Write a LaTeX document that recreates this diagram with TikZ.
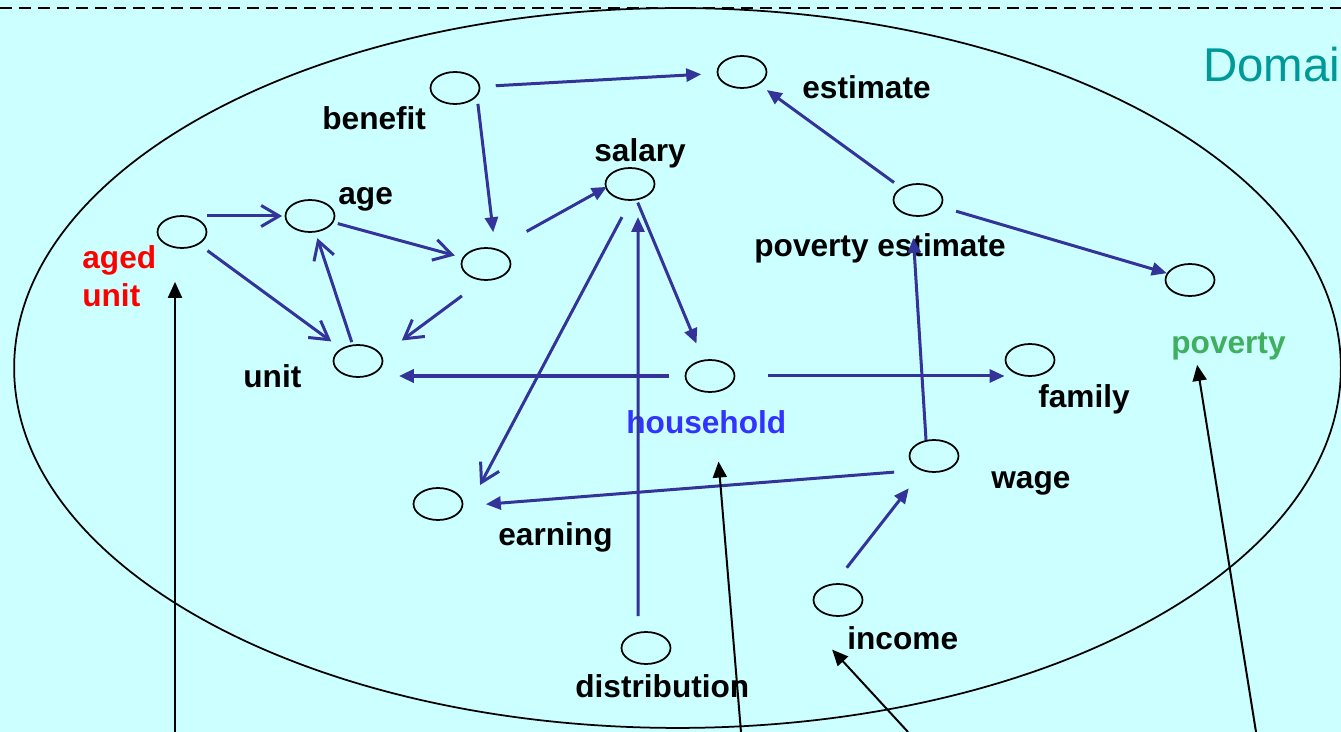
\documentclass[tikz,border=0pt]{standalone}
\usepackage{fontspec}
\setmainfont{Liberation Sans}
\usetikzlibrary{arrows.meta,shapes.geometric}
\definecolor{bg}{RGB}{204,255,255}
\definecolor{arrblue}{RGB}{51,51,153}
\definecolor{hhblue}{RGB}{51,51,255}
\definecolor{povgreen}{RGB}{64,175,95}
\definecolor{domteal}{RGB}{0,153,153}

\begin{document}
\begin{tikzpicture}[x=0.02cm,y=-0.02cm,
		lbl/.style={font=\fontsize{18}{21.5}\selectfont\bfseries,inner sep=0pt,anchor=base west},
		arr/.style={draw=arrblue,line width=0.06cm,-{Triangle[length=0.3cm,width=0.26cm]}},
		barb/.style={draw=arrblue,line width=0.06cm,-{Straight Barb[length=0.36cm,width=0.42cm]}},
		ext/.style={draw=black,line width=0.04cm,-{Triangle[length=0.32cm,width=0.28cm]}}]
		\useasboundingbox (0,0) rectangle (1341,732);
		\fill[bg] (0,0) rectangle (1341,732);
		\draw[line width=0.05cm,dash pattern=on 0.25cm off 0.13cm] (0,8) -- (1341,8);
		\draw[line width=0.035cm] (677.5,368) ellipse [x radius=13.27cm,y radius=7.2cm];
		
		\begin{scope}[every node/.style={ellipse,draw,line width=0.035cm,
			inner sep=0pt,minimum width=0.98cm,minimum height=0.64cm}]
		\node (aged) at (182,232) {};
		\node (age) at (310,216) {};
		\node (mid) at (486,264) {};
		\node (unit) at (358,361) {};
		\node (benefit) at (455,88) {};
		\node (salary) at (630,184) {};
		\node (est) at (742,72) {};
		\node (povest) at (918,200) {};
		\node (pov) at (1190,280) {};
		\node (hh) at (710,376) {};
		\node (fam) at (1030,360) {};
		\node (wage) at (934,456) {};
		\node (earn) at (438,504) {};
		\node (inc) at (838,600) {};
		\node (dist) at (646,648) {};
		\end{scope}
		
		\node[lbl,text=red,align=left,anchor=north west] (aged-t) at (82,245.5) {aged\\unit};
		\node[lbl] (age-t) at (338,205) {age};
		\node[lbl] (benefit-t) at (322,130) {benefit};
		\node[lbl] (unit-t) at (243,388) {unit};
		\node[lbl] (salary-t) at (594,162) {salary};
		\node[lbl] (est-t) at (802,99) {estimate};
		\node[lbl] (povest-t) at (754,257) {poverty estimate};
		\node[lbl,text=povgreen] (pov-t) at (1171,354) {poverty};
		\node[lbl,text=hhblue] (hh-t) at (626,434) {household};
		\node[lbl] (fam-t) at (1038,408) {family};
		\node[lbl] (wage-t) at (991,489) {wage};
		\node[lbl] (earn-t) at (498,545) {earning};
		\node[lbl] (inc-t) at (847,649) {income};
		\node[lbl] (dist-t) at (575,697) {distribution};
		\node[inner sep=0pt,anchor=base west,text=domteal,font=\fontsize{27}{32}\selectfont] (domain) at (1203,82) {Domai};
		
		% open heads
		\draw[barb,shorten >=0.05cm] (aged.east |- age) -- (age);
		\draw[barb,shorten <=0.21cm,shorten >=0.24cm] (aged) -- (unit);
		\draw[barb,shorten <=0.05cm,shorten >=0.12cm] (unit) -- (age);
		\draw[barb,shorten <=0.09cm,shorten >=0.16cm] (age) -- (mid);
		\draw[barb,shorten <=0.6cm,shorten >=1.09cm] ([yshift=-0.28cm]mid.center) -- ([yshift=-0.24cm]unit.center);
		\draw[barb,shorten <=0.75cm,shorten >=0.43cm] ([xshift=0.19cm]salary.center) -- ([xshift=0.64cm]earn.center);
		
		% filled heads
		\draw[arr,shorten <=0.32cm,shorten >=0.64cm] ([xshift=0.42cm]benefit.center) -- ([xshift=0.22cm]mid.center);
		\draw[arr,shorten <=0.31cm,shorten >=0.31cm] (benefit) -- (est);
		\draw[arr,shorten <=0.93cm,shorten >=0.53cm] ([yshift=0.2cm]mid.center) -- ([yshift=0.2cm]salary.center);
		\draw[arr,shorten <=0.05cm,shorten >=0.35cm] (salary) -- (hh);
		\draw[arr,shorten <=0.64cm,shorten >=0.66cm] ([xshift=-0.16cm]dist.center) -- ([xshift=0.16cm]salary.center);
		\draw[arr,line width=0.08cm,shorten <=0.31cm,shorten >=0.31cm] (hh) -- (hh -| unit.east);
		\draw[arr,shorten <=0.65cm] (hh) -- (hh -| fam.west);
		\draw[arr,shorten <=0.8cm,shorten >=0.96cm] ([yshift=-0.26cm]wage.center) -- ([yshift=-0.08cm]earn.center);
		\draw[arr,shorten <=0.32cm,shorten >=0.76cm] ([xshift=-0.14cm]wage.center) -- ([xshift=-0.14cm]povest.center);
		\draw[arr,shorten <=0.17cm,shorten >=0.19cm] (povest) -- (est);
		\draw[arr,shorten <=0.31cm] (povest) -- (pov);
		\draw[arr,shorten <=0.82cm,shorten >=0.82cm] ([xshift=-0.33cm]inc.center) -- (wage.center);
		
		% from outside
		\coordinate (in1) at (175,732);
		\coordinate (in2) at (741,732);
		\coordinate (in3) at (908,732);
		\coordinate (in4) at (1256,732);
		\draw[ext,shorten >=0.66cm] (in1) -- (in1 |- aged.south);
		\draw[ext,shorten >=0.54cm] (in2) -- ([xshift=0.2cm]hh-t.south);
		\draw[ext,shorten >=0.89cm] (in3) -- ([xshift=-0.72cm]inc.south);
		\draw[ext,shorten >=0.08cm] (in4) -- ([xshift=-0.64cm]pov-t.south);
		\end{tikzpicture}
\end{document}
